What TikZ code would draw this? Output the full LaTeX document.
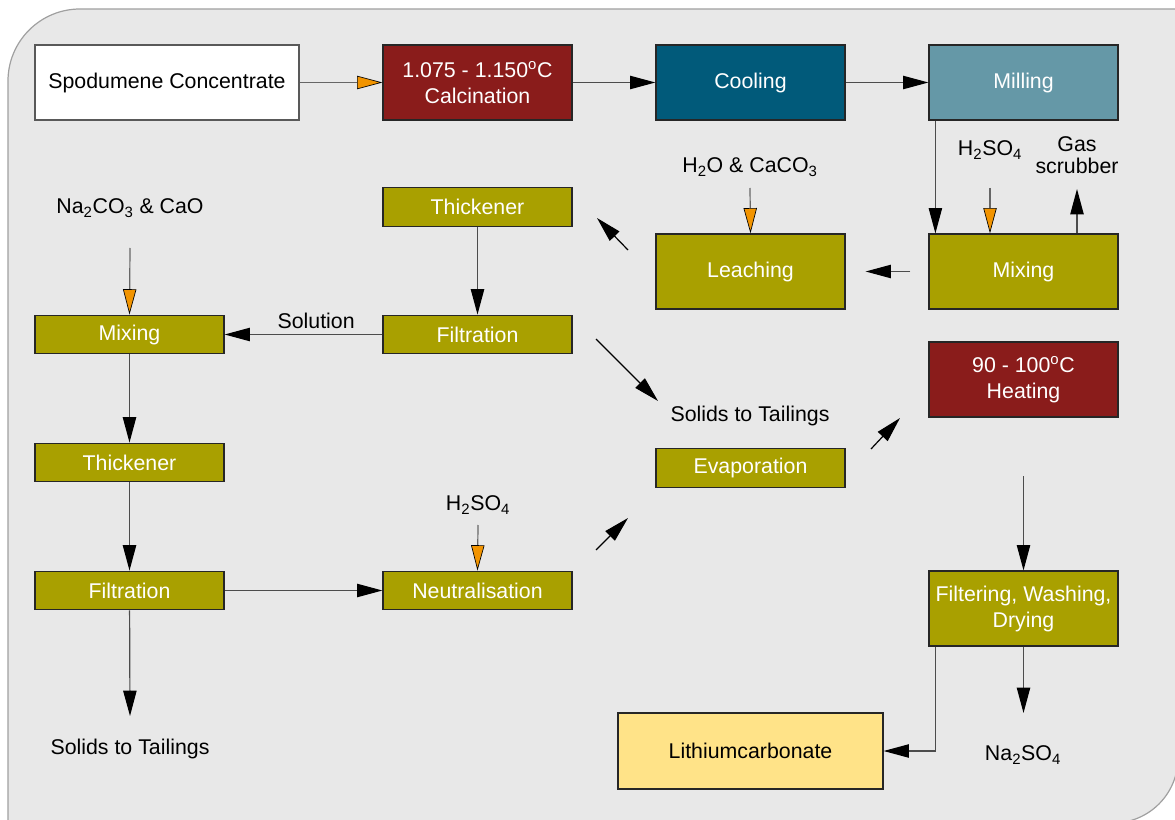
\documentclass[tikz,border=0pt]{standalone}
\usepackage{fontspec}
\setmainfont{Liberation Sans}
\usepackage{tikz}
\usetikzlibrary{arrows.meta}
\definecolor{panelgray}{HTML}{E8E8E8}
\definecolor{panelline}{HTML}{A0A0A0}
\definecolor{hotred}{HTML}{8A1C1B}
\definecolor{coolblue}{HTML}{015A7A}
\definecolor{millblue}{HTML}{6598A7}
\definecolor{olive}{HTML}{A9A000}
\definecolor{lithyellow}{HTML}{FFE388}
\definecolor{feedorange}{HTML}{F29400}
\newcommand{\flowfont}{\fontsize{16}{19.5}\selectfont}
\tikzset{box/.style={rectangle, draw=black!85, line width=0.9pt, minimum width=141.75pt, minimum height=56.25pt, inner sep=0pt, align=center, font=\flowfont, text=white, fill=olive},
  flat/.style={box, minimum height=29pt},
  lbl/.style={align=center, font=\flowfont, inner sep=1pt},
  post/.style={-{Triangle[length=19pt,width=10pt,black]}, line width=0.9pt, draw=black!70},
  feed/.style={-{Triangle[length=19pt,width=10pt,color=black,fill=feedorange,line width=0.5pt]}, line width=0.9pt, draw=black!60}}

\begin{document}
\begin{tikzpicture}[x=0.75pt, y=-0.75pt]
  \useasboundingbox (0,0) rectangle (1175,820);

  % panel
  \draw[fill=panelgray, draw=panelline, line width=0.9pt] (8,823) -- (8,81) arc[start angle=180, end angle=270, radius=72] -- (1178,9) -- (1178,758) arc[start angle=0, end angle=90, radius=65] -- cycle;

  % top row
  \node (spod) at (167,82.5) [box, fill=white, draw=black!65, text=black, minimum width=198pt] {Spodumene Concentrate};
  \node (calc) at (477.5,82.5) [box, fill=hotred] {1.075 - 1.150\textsuperscript{o}C\\Calcination};
  \node (cool) at (750.5,82.5) [box, fill=coolblue] {Cooling};
  \node (mill) at (1023.5,82.5) [box, fill=millblue] {Milling};

  % leaching
  \node (mixA) at (1023.5,271.5) [box] {Mixing};
  \node (leach) at (750.5,271.5) [box] {Leaching};
  \node (thickA) at (477.5,207) [flat] {Thickener};
  \node (filtA) at (477.5,334.5) [flat] {Filtration};

  % precipitation
  \node (mixB) at (129.5,334.5) [flat] {Mixing};
  \node (thickB) at (129.5,462.5) [flat] {Thickener};
  \node (filtB) at (129.5,590.5) [flat] {Filtration};
  \node (neut) at (477.5,590.5) [flat] {Neutralisation};
  \node (evap) at (750.5,468) [flat] {Evaporation};
  \node (heat) at (1023.5,379.5) [box, fill=hotred] {90 - 100\textsuperscript{o}C\\Heating};
  \node (fwd) at (1023.5,608.5) [box] {Filtering, Washing,\\Drying};
  \node (lith) at (750.5,751) [box, fill=lithyellow, text=black, minimum width=198.75pt, minimum height=57pt] {Lithiumcarbonate};

  % labels
  \node (h2oIn) at (750,167) [lbl] {H\textsubscript{2}O \& CaCO\textsubscript{3}};
  \node (acidA) at (990,150) [lbl] {H\textsubscript{2}SO\textsubscript{4}};
  \node (gas) at (1077,155) [lbl, font=\fontsize{16}{17}\selectfont] {Gas\\scrubber};
  \node (sodaIn) at (130,208) [lbl] {Na\textsubscript{2}CO\textsubscript{3} \& CaO};
  \node (tailsA) at (750,416) [lbl] {Solids to Tailings};
  \node (acidB) at (478,505) [lbl] {H\textsubscript{2}SO\textsubscript{4}};
  \node (tailsB) at (130,749) [lbl] {Solids to Tailings};
  \node (sulfate) at (1023,755) [lbl] {Na\textsubscript{2}SO\textsubscript{4}};

  \coordinate (h2oTop) at (750,188);
  \coordinate (acidATop) at (990,188);
  \coordinate (gasTip) at (1077,189);
  \coordinate (leachOut) at (628,250);
  \coordinate (thickIn) at (597,218);
  \coordinate (filtOut) at (596,339);
  \coordinate (tailsATip) at (658,401);
  \coordinate (sodaTop) at (130,248);
  \coordinate (tailsBTip) at (130,716);
  \coordinate (acidBTop) at (478,525);
  \coordinate (neutOut) at (596,550);
  \coordinate (evapIn) at (628,518);
  \coordinate (evapOut) at (871,449);
  \coordinate (heatIn) at (900,418);
  \coordinate (heatOut) at (1023.5,476);
  \coordinate (sulfateTip) at (1023.5,713);

  % connectors
  \draw[feed] (spod) -- (calc);
  \draw[post] (calc) -- (cool);
  \draw[post] (cool) -- (mill);
  \draw[post] ([xshift=5.25pt]mill.south west) -- ([xshift=5.25pt]mixA.north west);
  \draw[feed] (acidATop) -- (acidATop |- mixA.north);
  \draw[post] (gasTip |- mixA.north) -- (gasTip);
  \draw[post, shorten <=13.5pt, shorten >=15pt] (mixA) -- (leach);
  \draw[feed] (h2oTop) -- (leach.north);
  \draw[post, draw=black] (leachOut) -- (thickIn);
  \draw[post] (thickA) -- (filtA);
  \draw[post] (filtA) -- node[pos=0.42, above, lbl, yshift=3pt] (sol) {Solution} (mixB);
  \draw[post, draw=black] (filtOut) -- (tailsATip);
  \draw[feed] (sodaTop) -- (mixB.north);
  \draw[post] (mixB) -- (thickB);
  \draw[post] (thickB) -- (filtB);
  \draw[post] (filtB) -- (neut);
  \draw[post] (filtB) -- (tailsBTip);
  \draw[feed] (acidBTop) -- (neut.north);
  \draw[post, draw=black] (neutOut) -- (evapIn);
  \draw[post, draw=black] (evapOut) -- (heatIn);
  \draw[post] (heatOut) -- (fwd.north);
  \draw[post] (fwd) -- (sulfateTip);
  \draw[post] ([xshift=5.25pt]fwd.south west) |- (lith.east);

\end{tikzpicture}
\end{document}
